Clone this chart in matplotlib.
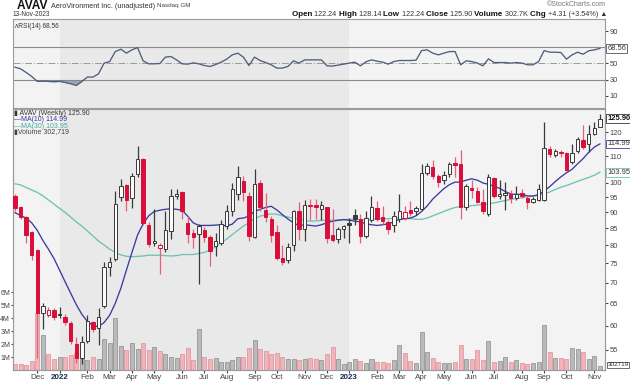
import numpy as np
import pandas as pd
import matplotlib
matplotlib.use("Agg")
import matplotlib.pyplot as plt
from matplotlib.transforms import blended_transform_factory

plt.rcParams['font.family'] = ['Liberation Sans', 'DejaVu Sans']

# ---------------- data (weekly bars) ----------------
start_week = '2021-11-08'
prior_close = 95.8
opens = [95.5, 91.6, 88.5, 83.9, 78.6, 62.7, 62.4, 63.4, 62.5, 62.0,
         60.5, 56.2, 53.4, 56.8, 60.8, 59.6, 64.4, 74.1, 76.3, 95.2,
         99.2, 94.6, 103.2, 108.9, 85.9, 80.6, 79.2, 79.0, 84.1, 95.4,
         96.7, 86.7, 83.7, 83.3, 84.5, 82.3, 79.9, 80.8, 85.7, 90.4,
         96.1, 100.8, 95.3, 82.4, 100.0, 90.7, 87.8, 83.9, 76.5, 75.8,
         80.0, 90.5, 84.9, 92.5, 92.3, 91.0, 91.6, 82.9, 81.7, 84.9,
         86.7, 89.3, 88.0, 82.6, 87.7, 91.5, 88.6, 87.0, 85.9, 88.0,
         88.3, 90.7, 90.6, 91.2, 103.5, 105.9, 102.6, 101.1, 103.2, 107.3,
         106.9, 91.8, 98.2, 97.1, 93.3, 89.5, 101.8, 95.6, 95.9, 96.2,
         94.8, 96.5, 94.8, 93.3, 94.0, 94.0, 112.9, 110.7, 111.7, 111.3,
         107.7, 112.1, 116.5, 115.1, 119.3, 122.24]
highs = [96.0, 92.0, 88.9, 84.3, 79.0, 65.0, 64.1, 64.0, 64.2, 62.5,
         61.0, 57.7, 57.8, 62.4, 61.1, 63.9, 75.4, 76.8, 97.0, 101.3,
         99.6, 103.5, 114.0, 109.5, 87.0, 91.2, 80.6, 90.3, 98.0, 98.0,
         97.0, 89.0, 84.9, 86.4, 85.3, 82.9, 83.7, 87.5, 92.5, 100.1,
         106.3, 102.4, 96.8, 105.2, 101.0, 96.3, 89.0, 85.9, 80.0, 80.6,
         90.7, 93.5, 94.0, 94.4, 94.4, 93.7, 91.8, 91.2, 85.5, 85.9,
         88.3, 91.2, 89.5, 90.3, 95.3, 93.8, 92.0, 87.5, 90.3, 96.0,
         92.2, 93.8, 92.2, 106.9, 107.3, 108.4, 103.1, 104.3, 107.7, 109.6,
         112.5, 99.8, 101.0, 98.5, 97.9, 103.2, 102.0, 101.0, 100.4, 97.4,
         98.9, 98.0, 95.6, 95.1, 99.8, 124.4, 114.2, 112.9, 112.5, 111.7,
         115.0, 117.9, 123.2, 122.9, 124.4, 128.14]
lows = [90.5, 88.0, 80.8, 75.8, 53.5, 59.2, 61.9, 61.3, 61.7, 60.2,
        56.2, 52.5, 52.3, 56.3, 58.7, 55.9, 63.9, 71.8, 75.5, 93.8,
        90.3, 91.5, 102.2, 86.0, 79.6, 79.9, 72.3, 78.1, 81.7, 94.4,
        88.0, 80.8, 79.2, 69.7, 81.0, 74.3, 77.0, 80.0, 84.9, 89.0,
        94.0, 93.7, 81.2, 82.1, 90.6, 87.0, 81.0, 75.8, 74.6, 75.1,
        78.3, 81.4, 81.2, 87.5, 87.9, 87.5, 80.6, 81.0, 80.6, 82.1,
        80.8, 86.1, 80.8, 82.1, 87.0, 87.2, 86.4, 83.2, 84.0, 87.0,
        87.5, 89.0, 89.2, 90.7, 102.8, 101.5, 98.6, 99.8, 102.2, 102.2,
        88.0, 90.7, 94.6, 93.0, 89.5, 88.9, 94.6, 94.4, 90.7, 93.2,
        94.0, 94.6, 91.0, 93.0, 93.7, 93.7, 109.6, 109.6, 109.6, 104.3,
        107.0, 111.5, 113.1, 111.7, 118.6, 122.24]
closes = [91.3, 88.6, 83.1, 77.4, 62.8, 64.3, 63.5, 61.8, 62.3, 60.7,
          56.8, 53.4, 56.6, 61.0, 59.3, 61.9, 74.0, 75.4, 92.9, 99.0,
          94.0, 102.6, 108.9, 86.7, 80.3, 81.2, 80.0, 84.4, 95.6, 96.2,
          90.3, 83.4, 82.5, 85.6, 82.5, 78.5, 81.2, 86.4, 90.3, 97.8,
          102.3, 96.8, 82.7, 99.8, 91.9, 88.6, 83.1, 76.5, 75.4, 79.6,
          90.3, 84.8, 92.5, 92.0, 91.7, 92.5, 82.2, 81.6, 84.8, 85.6,
          85.9, 88.0, 82.7, 88.3, 91.9, 87.8, 87.2, 84.8, 89.0, 90.5,
          90.2, 89.9, 91.5, 103.7, 106.3, 102.6, 100.4, 102.9, 106.9, 106.6,
          91.9, 99.0, 97.4, 93.5, 90.5, 102.0, 95.6, 96.2, 96.5, 94.8,
          96.2, 95.4, 93.3, 94.4, 97.8, 113.4, 111.1, 112.1, 111.3, 104.6,
          111.3, 116.9, 113.9, 119.3, 121.59, 125.90]
volume_m = [0.44, 0.49, 0.36, 0.69, 4.4, 2.67, 1.21, 0.82, 1.0, 1.0,
            1.13, 1.34, 0.82, 0.75, 1.0, 0.88, 2.41, 2.05, 4.03, 1.85,
            1.54, 2.05, 1.64, 2.1, 1.54, 1.8, 1.44, 1.21, 1.0, 0.95,
            1.21, 1.7, 0.75, 3.18, 1.03, 0.88, 0.95, 0.62, 0.62, 0.77,
            1.03, 0.98, 1.67, 2.28, 1.64, 1.46, 1.21, 1.28, 1.03, 0.82,
            0.88, 0.75, 0.82, 0.9, 0.82, 0.77, 1.21, 1.80, 0.88, 0.44,
            0.62, 0.82, 0.67, 0.57, 0.88, 0.62, 0.62, 0.52, 0.77, 1.93,
            1.34, 0.68, 0.57, 2.92, 1.41, 0.95, 0.62, 0.57, 0.57, 0.64,
            1.95, 0.88, 0.88, 1.52, 0.77, 2.26, 0.62, 0.72, 1.03, 0.62,
            0.77, 0.52, 0.49, 0.57, 0.62, 3.49, 1.39, 0.95, 0.95, 0.88,
            1.72, 1.64, 1.41, 0.82, 1.1, 0.30]
last_volume = 302719
ma10 = [89.9, 89.0, 88.2, 86.7, 84.4, 81.4, 78.9, 76.3, 73.2, 70.2,
        67.4, 64.7, 62.5, 60.9, 60.0, 59.8, 60.7, 62.3, 65.0, 68.6,
        73.2, 78.0, 83.0, 86.4, 88.9, 90.3, 90.7, 91.0, 91.2, 91.0,
        90.7, 88.8, 86.7, 85.9, 85.9, 85.9, 86.0, 86.1, 85.7, 86.3,
        88.0, 88.2, 88.8, 90.3, 91.0, 91.6, 92.0, 90.8, 89.3, 87.9,
        86.7, 85.8, 86.1, 85.9, 85.7, 86.1, 86.7, 87.2, 87.5, 87.7,
        87.5, 87.2, 87.0, 86.4, 86.1, 85.9, 86.1, 86.4, 87.0, 87.8,
        88.0, 88.2, 88.9, 90.3, 92.1, 94.4, 96.2, 98.0, 99.4, 100.3,
        100.3, 101.0, 101.5, 101.0, 100.0, 99.5, 98.8, 98.1, 97.0, 96.1,
        96.0, 96.0, 95.5, 95.4, 95.9, 97.1, 98.7, 100.5, 102.2, 103.7,
        105.0, 107.1, 109.1, 111.6, 113.7, 114.99]
ma30 = [99.7, 99.3, 98.4, 97.5, 96.7, 95.5, 94.1, 92.7, 91.3, 90.0,
        88.5, 87.0, 85.7, 84.2, 82.7, 81.2, 80.1, 78.9, 78.0, 77.3,
        76.9, 76.8, 76.9, 77.0, 77.2, 77.2, 77.2, 77.1, 77.0, 77.1,
        77.4, 77.4, 77.4, 77.7, 78.0, 78.6, 79.6, 80.8, 81.8, 83.1,
        84.4, 85.7, 86.7, 88.0, 88.8, 89.2, 89.5, 89.4, 88.9, 88.5,
        88.1, 87.8, 87.5, 87.2, 87.3, 87.5, 87.5, 87.5, 87.6, 87.7,
        87.8, 87.8, 87.7, 87.5, 87.7, 88.0, 88.0, 88.0, 88.1, 88.2,
        88.0, 88.0, 87.8, 87.8, 88.2, 88.9, 89.6, 90.3, 91.0, 91.6,
        91.9, 92.0, 92.2, 92.4, 92.6, 92.8, 93.1, 93.5, 93.9, 94.3,
        94.6, 94.8, 95.2, 95.5, 95.7, 96.2, 96.8, 97.7, 98.5, 99.1,
        99.8, 100.6, 101.3, 102.0, 102.8, 103.95]
rsi14 = [45.4, 43.3, 38.8, 33.8, 27.7, 28.1, 27.7, 27.3, 27.7, 26.4,
         24.8, 22.7, 27.7, 33.1, 33.1, 37.2, 50.4, 52.3, 64.7, 67.6,
         62.7, 66.8, 69.6, 53.2, 49.5, 49.5, 49.9, 57.8, 58.5, 54.4,
         49.5, 49.1, 50.7, 49.5, 47.4, 46.2, 48.6, 51.6, 55.3, 60.6,
         62.7, 57.8, 47.4, 57.8, 53.6, 51.1, 48.3, 44.2, 44.2, 46.2,
         53.2, 50.4, 54.4, 54.4, 54.4, 54.4, 47.0, 46.7, 47.9, 49.1,
         50.4, 51.6, 47.0, 52.0, 54.4, 52.8, 51.6, 49.1, 52.3, 53.6,
         53.6, 53.6, 54.0, 65.9, 66.8, 62.7, 60.6, 62.7, 64.7, 64.7,
         48.3, 53.2, 52.3, 50.4, 47.0, 55.7, 51.1, 51.1, 51.1, 50.4,
         51.1, 50.4, 48.3, 48.3, 52.3, 65.9, 63.9, 63.9, 63.5, 55.3,
         60.6, 63.9, 61.4, 65.6, 66.8, 68.56]
price_ticks = [55, 60, 65, 70, 75, 80, 85, 90, 95, 100, 110, 120]
rsi_ticks = [10, 30, 50, 90]
vol_ticks_m = [1, 2, 3, 4, 5, 6]

# ---------------- figure ----------------
W, H = 630, 381
fig = plt.figure(figsize=(W / 100, H / 100), dpi=100)
fig.patch.set_facecolor('white')


def fx(px):
    return px / W


def fy(py):
    return 1 - py / H


o = np.array(opens); h = np.array(highs); l = np.array(lows); c = np.array(closes)
vol = np.array(volume_m)
n = len(c)
xi = np.arange(n)
dates = pd.date_range(start_week, periods=n, freq='W-MON')
prev = np.concatenate([[prior_close], c[:-1]])
up = c >= prev
XL = (-0.36, n - 0.08)

light_bg = '#f3f3f3'
dark_bg = '#e9e9e9'
spine_col = '#9c9c9c'

ax_r = fig.add_axes([fx(13), fy(108), 592 / W, 89 / H])
ax_v = fig.add_axes([fx(13), fy(370), 592 / W, 261 / H])
ax_p = ax_v.twinx()

# year shading
years = dates.year
ylist = sorted(set(years))
starts = [int(np.argmax(years == y)) for y in ylist]
bounds = [XL[0]] + starts[1:] + [XL[1]]
for k, y in enumerate(ylist):
    col = dark_bg if y % 2 == 0 else light_bg
    for a in (ax_r, ax_v):
        a.axvspan(bounds[k], bounds[k + 1], color=col, lw=0, zorder=0)

for a in (ax_r, ax_v, ax_p):
    a.set_xlim(*XL)
    for s in a.spines.values():
        s.set_color(spine_col)
        s.set_linewidth(0.8)

# ---------------- RSI panel ----------------
r = np.array(rsi14)
ax_r.set_ylim(-5.2, 105)
ax_r.axhline(70, color='#8a8a8a', lw=0.8, zorder=1)
ax_r.axhline(30, color='#8a8a8a', lw=0.8, zorder=1)
ax_r.axhline(50, color='#9a9a9a', lw=0.7, ls=(0, (7, 2, 1, 2)), zorder=1)
ax_r.fill_between(xi, r, 30, where=r < 30, interpolate=True, color='#7a88a0', alpha=0.7, lw=0, zorder=2)
ax_r.fill_between(xi, r, 70, where=r > 70, interpolate=True, color='#7a88a0', alpha=0.7, lw=0, zorder=2)
ax_r.plot(xi, r, color='#4f5d7e', lw=0.95, zorder=3)
ax_r.set_xticks([])
ax_r.yaxis.tick_right()
ax_r.set_yticks(rsi_ticks)
ax_r.set_yticklabels([str(t) for t in rsi_ticks])
ax_r.tick_params(axis='y', length=2, pad=1.5, labelsize=5.4, colors='#444444')
tr_r = blended_transform_factory(ax_r.transAxes, ax_r.transData)
ax_r.text(1.004, r[-1], f'{r[-1]:.2f}', transform=tr_r, fontsize=5.4, va='center', ha='left',
          color='#333333', bbox=dict(boxstyle='square,pad=0.12', fc='white', ec='#555555', lw=0.6), zorder=10)
ax_r.text(0.003, 0.955, f'\u028cRSI(14) {r[-1]:.2f}', transform=ax_r.transAxes, fontsize=4.7,
          color='#333333', va='top', ha='left')

# ---------------- volume (behind price) ----------------
vcol = np.where(up, '#bababa', '#f0b5bb')
vedge = np.where(up, '#8c8c8c', '#df8e98')
ax_v.bar(xi, vol, width=0.72, color=vcol, edgecolor=vedge, lw=0.5, zorder=2)
ax_v.set_ylim(0, 20.08)
ax_v.set_yticks(vol_ticks_m)
ax_v.set_yticklabels([f'{t}M' for t in vol_ticks_m])
ax_v.tick_params(axis='y', length=1.5, pad=0.5, labelsize=5.0, colors='#444444')

# month ticks
mt_idx, mt_lab = [], []
for i in range(n):
    if i == 0 or dates[i].month != dates[i - 1].month:
        if i == 0 and dates[i].day > 7:
            continue
        mt_idx.append(i)
        mt_lab.append(str(dates[i].year) if dates[i].month == 1 else dates[i].strftime('%b'))
ax_v.set_xticks(mt_idx)
ax_v.set_xticklabels(mt_lab)
ax_v.tick_params(axis='x', length=2, pad=1.2, labelsize=5.8, colors='#444444')
for t in ax_v.get_xticklabels():
    if t.get_text().isdigit():
        t.set_fontweight('bold')
        t.set_color('#1a2a50')

# ---------------- price panel ----------------
ax_p.set_yscale('log')
ax_p.set_ylim(51.2, 130.3)
ax_p.yaxis.set_major_locator(matplotlib.ticker.FixedLocator(price_ticks))
ax_p.yaxis.set_minor_locator(matplotlib.ticker.NullLocator())
ax_p.set_yticklabels([str(t) for t in price_ticks])
ax_p.tick_params(axis='y', length=2, pad=1.5, labelsize=5.4, colors='#444444')

ax_p.plot(xi, ma30, color='#6cc3b3', lw=0.95, zorder=3)
ax_p.plot(xi, ma10, color='#3b3ba0', lw=0.95, zorder=3)

red = '#d80f3a'
wick_red = '#e4607a'
blk = '#3a3a3a'
ccol = np.where(up, blk, red)
wcol = np.where(up, blk, wick_red)
filled = c < o
ax_p.vlines(xi, l, h, colors=wcol, lw=0.9, zorder=4)
bot = np.minimum(o, c)
top = np.maximum(o, c)
hgt = np.maximum(top - bot, 0.25)
face = np.where(filled, ccol, '#fafafa')
ax_p.bar(xi, hgt, bottom=bot, width=0.62, color=face, edgecolor=ccol, lw=0.7, zorder=5)

tr_p = blended_transform_factory(ax_p.transAxes, ax_p.transData)
box = dict(boxstyle='square,pad=0.12', fc='white', lw=0.6)
ax_p.text(1.004, c[-1], f'{c[-1]:.2f}', transform=tr_p, fontsize=5.4, va='center', ha='left',
          color='#111111', fontweight='bold', bbox=dict(box, ec='#333333'), zorder=10)
ax_p.text(1.004, ma10[-1], f'{ma10[-1]:.2f}', transform=tr_p, fontsize=5.4, va='center', ha='left',
          color='#333333', bbox=dict(box, ec='#3b3ba0'), zorder=10)
ax_p.text(1.004, ma30[-1], f'{ma30[-1]:.2f}', transform=tr_p, fontsize=5.4, va='center', ha='left',
          color='#333333', bbox=dict(box, ec='#6cc3b3'), zorder=10)
tr_v = blended_transform_factory(ax_v.transAxes, ax_v.transData)
ax_v.text(1.004, vol[-1] + 0.1, f'{last_volume}', transform=tr_v, fontsize=4.6, va='center', ha='left',
          color='#333333', bbox=dict(box, ec='#555555'), zorder=10, clip_on=False)

# legend text in price panel
leg = [(f'\u25AE AVAV (Weekly) {c[-1]:.2f}', '#333333'),
       (f'\u2014MA(10) {ma10[-1]:.2f}', '#3b3ba0'),
       (f'\u2014MA(30) {ma30[-1]:.2f}', '#4aa898'),
       (f'\u25AEVolume {last_volume:,}', '#444444')]
for k, (t, col) in enumerate(leg):
    fig.text(fx(14), fy(113.5 + 6.4 * k), t, fontsize=5.0, color=col, va='center', ha='left')

# ---------------- header ----------------
fig.canvas.draw()
rend = fig.canvas.get_renderer()


def runs_left(x0, ypx, runs):
    xpos = x0
    for s, size, weight, col in runs:
        t = fig.text(fx(xpos), fy(ypx), s, fontsize=size, fontweight=weight, color=col,
                     va='center', ha='left')
        xpos += t.get_window_extent(rend).width
    return xpos


runs_left(17, 6, [('AVAV ', 8.6, 'bold', '#111111'),
                  ('AeroVironment Inc. (unadjusted) ', 5.2, 'normal', '#333333'),
                  ('Nasdaq GM', 4.5, 'normal', '#444444')])
fig.text(fx(13), fy(14.5), '13-Nov-2023', fontsize=4.7, color='#333333', va='center', ha='left')
fig.text(fx(606), fy(5), '\u00a9StockCharts.com', fontsize=5.0, color='#777777', va='center', ha='right')

runs = [('Open ', True), ('122.24 ', False), ('High ', True), ('128.14 ', False),
        ('Low ', True), ('122.24 ', False), ('Close ', True), ('125.90 ', False),
        ('Volume ', True), ('302.7K ', False), ('Chg ', True), ('+4.31 (+3.54%) \u25b2', False)]
texts = []
for s, b in runs:
    t = fig.text(0, fy(14.5), s, fontsize=5.8 if b else 5.2, fontweight='bold' if b else 'normal',
                 color='#111111' if b else '#333333', va='center', ha='left')
    texts.append(t)
widths = [t.get_window_extent(rend).width for t in texts]
xpos = 607 - sum(widths)
for t, w in zip(texts, widths):
    t.set_x(fx(xpos))
    xpos += w

fig.savefig('out.png', dpi=100, facecolor='white')
